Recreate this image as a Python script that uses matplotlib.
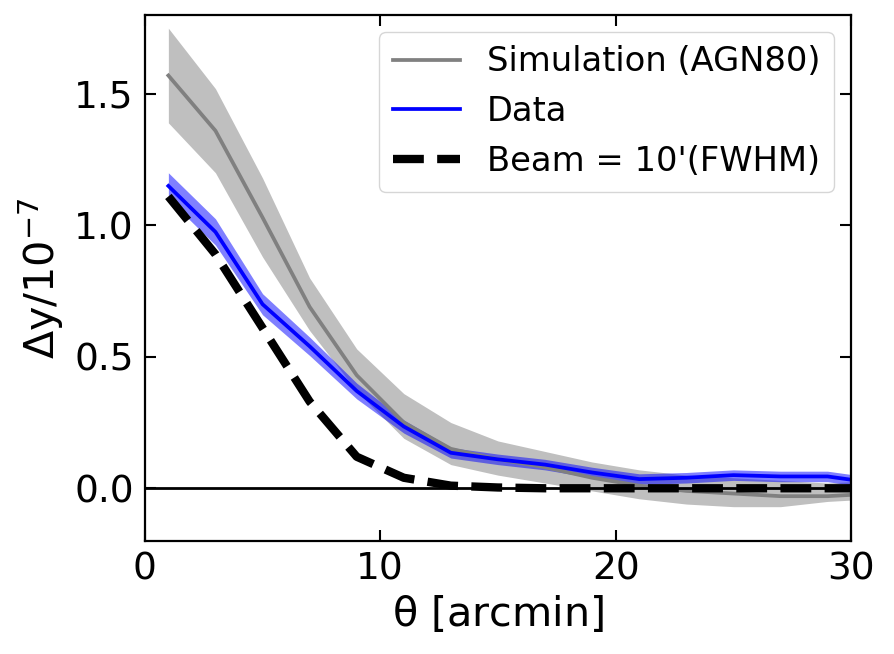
import matplotlib
matplotlib.use('Agg')
import matplotlib.pyplot as plt
import numpy as np

theta = np.array([1, 3, 5, 7, 9, 11, 13, 15, 17, 19, 21, 23, 25, 27, 29, 31])

sim = np.array([1.57, 1.36, 1.03, 0.69, 0.43, 0.25, 0.15, 0.11, 0.08, 0.04,
                0.01, -0.01, -0.02, -0.03, -0.03, -0.02])
sim_hi = np.array([1.75, 1.52, 1.18, 0.80, 0.53, 0.36, 0.25, 0.18, 0.14, 0.10,
                   0.07, 0.05, 0.04, 0.03, 0.02, 0.03])
sim_lo = np.array([1.39, 1.20, 0.88, 0.60, 0.37, 0.19, 0.09, 0.05, 0.02, -0.01,
                   -0.04, -0.06, -0.07, -0.07, -0.05, -0.04])

data = np.array([1.15, 0.975, 0.70, 0.54, 0.37, 0.235, 0.135, 0.11, 0.09, 0.06,
                 0.035, 0.04, 0.05, 0.045, 0.045, 0.02])
data_err = np.array([0.05, 0.05, 0.04, 0.035, 0.03, 0.025, 0.02, 0.02, 0.02, 0.02,
                     0.02, 0.02, 0.02, 0.02, 0.02, 0.02])

beam = np.array([1.11, 0.89, 0.61, 0.33, 0.12, 0.04, 0.01, 0.003, 0.0, 0.0,
                 0.0, 0.0, 0.0, 0.0, 0.0, 0.0])

fig = plt.figure(figsize=(8.94, 6.54), dpi=100)
ax = fig.add_axes([0.162, 0.173, 0.790, 0.804])

ax.fill_between(theta, sim_lo, sim_hi, color='gray', alpha=0.5, lw=0)
ax.plot(theta, sim, color='gray', lw=2.7, label='Simulation (AGN80)')
ax.fill_between(theta, data - data_err, data + data_err, color='blue', alpha=0.5, lw=0)
ax.plot(theta, data, color='blue', lw=2.7, label='Data')
ax.plot(theta, beam, color='black', lw=6, ls='--', label="Beam = 10'(FWHM)")
ax.axhline(0, color='black', lw=2)

ax.set_xlim(0, 30)
ax.set_ylim(-0.2, 1.8)
ax.set_xticks([0, 10, 20, 30])
ax.set_yticks([0.0, 0.5, 1.0, 1.5])
ax.tick_params(direction='in', top=True, right=True, length=8, width=1.5, labelsize=27, pad=8)
for s in ax.spines.values():
    s.set_linewidth(1.6)

ax.set_xlabel(r'$\mathrm{\theta}$ [arcmin]', fontsize=29.7, labelpad=4)
ax.set_ylabel(r'$\Delta$y/10$^{-7}$', fontsize=29.7, labelpad=6)

ax.legend(loc='upper right', fontsize=24.3)

fig.savefig('out.png', dpi=100)
